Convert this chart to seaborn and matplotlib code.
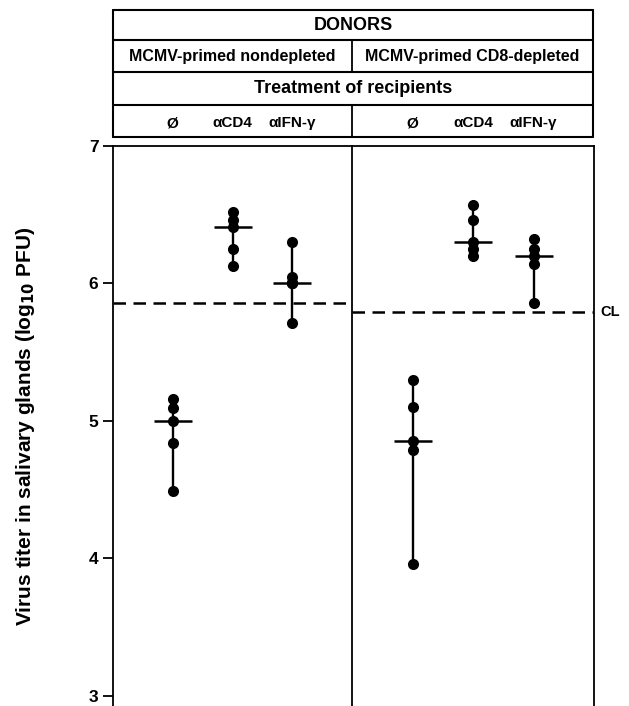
import seaborn as sns
import pandas as pd
import matplotlib
matplotlib.use("Agg")
import matplotlib.pyplot as plt

# values (log10 PFU)
treatments = ["Ø", "αCD4", "αIFN-γ"]
donors = ["MCMV-primed nondepleted", "MCMV-primed CD8-depleted"]

nondep_none = [5.16, 5.09, 5.00, 4.84, 4.49]
nondep_cd4 = [6.52, 6.46, 6.41, 6.25, 6.13]
nondep_ifn = [6.30, 6.05, 6.00, 6.00, 6.00, 5.71]

cd8dep_none = [5.30, 5.10, 4.85, 4.79, 3.96]
cd8dep_cd4 = [6.57, 6.46, 6.30, 6.25, 6.20]
cd8dep_ifn = [6.32, 6.25, 6.20, 6.14, 5.86]

# control level (CL) per donor group
cl_levels = [5.855, 5.79]
yticks = [3, 4, 5, 6, 7]


def make_frame(groups):
    rows = []
    for name, vals in zip(treatments, groups):
        for v in vals:
            rows.append({"treatment": name, "titer": v})
    return pd.DataFrame(rows)


def main():
    sns.set_theme(style="white")
    plt.rcParams["font.family"] = ["Liberation Sans", "DejaVu Sans"]
    plt.rcParams["font.weight"] = "bold"
    for key in ["text.color", "axes.labelcolor", "xtick.color", "ytick.color"]:
        plt.rcParams[key] = "black"

    frames = [make_frame([nondep_none, nondep_cd4, nondep_ifn]),
              make_frame([cd8dep_none, cd8dep_cd4, cd8dep_ifn])]

    W, H = 629, 706
    fig = plt.figure(figsize=(W / 100, H / 100), dpi=100)
    fig.patch.set_facecolor("white")

    left, mid, right, top = 113, 352, 594, 146
    ax1 = fig.add_axes([left / W, 0, (mid - left) / W, 1 - top / H])
    ax2 = fig.add_axes([mid / W, 0, (right - mid) / W, 1 - top / H], sharey=ax1)

    for i, (ax, df) in enumerate(zip([ax1, ax2], frames)):
        sns.stripplot(data=df, x="treatment", y="titer", order=treatments,
                      jitter=False, color="black", size=8, linewidth=0, ax=ax, zorder=3)
        sns.pointplot(data=df, x="treatment", y="titer", order=treatments,
                      estimator="median", errorbar=("pi", 100), color="black",
                      markers="_", linestyle="none", markersize=27,
                      markeredgewidth=1.8, err_kws={"linewidth": 1.7}, ax=ax)
        ax.axhline(cl_levels[i], color="black", lw=1.8, ls=(0, (5, 3)), zorder=2)
        ax.set_xlim(-1, 3)
        ax.set_ylim(2.925, 7)
        ax.set_xlabel("")
        ax.set_ylabel("")
        ax.xaxis.tick_top()
        ax.tick_params(axis="x", length=0, pad=11.5, labelsize=11)
        for lab in ax.get_xticklabels():
            lab.set_fontweight("bold")
        for side in ["top", "left", "right"]:
            ax.spines[side].set_color("black")
            ax.spines[side].set_linewidth(1.3)
        ax.spines["bottom"].set_visible(False)

    ax1.spines["right"].set_visible(False)
    ax1.set_yticks(yticks)
    ax1.set_yticklabels([str(t) for t in yticks], fontweight="bold")
    ax1.tick_params(axis="y", left=True, length=7, width=1.3, pad=3.5,
                    labelsize=12.5, color="black")
    ax2.tick_params(axis="y", left=False, labelleft=False)

    ax1.set_ylabel("Virus titer in salivary glands (log$_{\\mathbf{10}}$ PFU)",
                   fontsize=15, fontweight="bold")
    ax1.yaxis.set_label_coords(-76 / (mid - left), 0.5)

    ax2.text(1.025, cl_levels[1], "CL", transform=ax2.get_yaxis_transform(),
             ha="left", va="center", fontsize=10.5, fontweight="bold")

    # header table
    hl, hr, ht, hb = 113, 593, 10, 137
    hax = fig.add_axes([hl / W, 1 - hb / H, (hr - hl) / W, (hb - ht) / H])
    hax.set_xlim(0, 1)
    hax.set_ylim(0, 1)
    hax.axis("off")
    bounds = [1, 1 - 30 / 127, 1 - 62 / 127, 1 - 95 / 127, 0]
    for b in bounds:
        hax.axhline(b, color="black", lw=1.5, clip_on=False)
    hax.axvline(0, color="black", lw=1.5, clip_on=False)
    hax.axvline(1, color="black", lw=1.5, clip_on=False)
    xdiv = (mid - hl) / (hr - hl)
    hax.axvline(xdiv, ymin=bounds[2], ymax=bounds[1], color="black", lw=1.3)
    hax.axvline(xdiv, ymin=0, ymax=bounds[3], color="black", lw=1.3)

    def row_mid(k):
        return (bounds[k] + bounds[k + 1]) / 2

    hax.text(0.5, row_mid(0), "DONORS", ha="center", va="center",
             fontsize=13, fontweight="bold")
    hax.text(xdiv / 2, row_mid(1), donors[0], ha="center", va="center",
             fontsize=11.5, fontweight="bold")
    hax.text((xdiv + 1) / 2, row_mid(1), donors[1], ha="center", va="center",
             fontsize=11.5, fontweight="bold")
    hax.text(0.5, row_mid(2), "Treatment of recipients", ha="center", va="center",
             fontsize=13, fontweight="bold")

    fig.savefig("out.png", dpi=100, facecolor="white")


if __name__ == "__main__":
    main()
